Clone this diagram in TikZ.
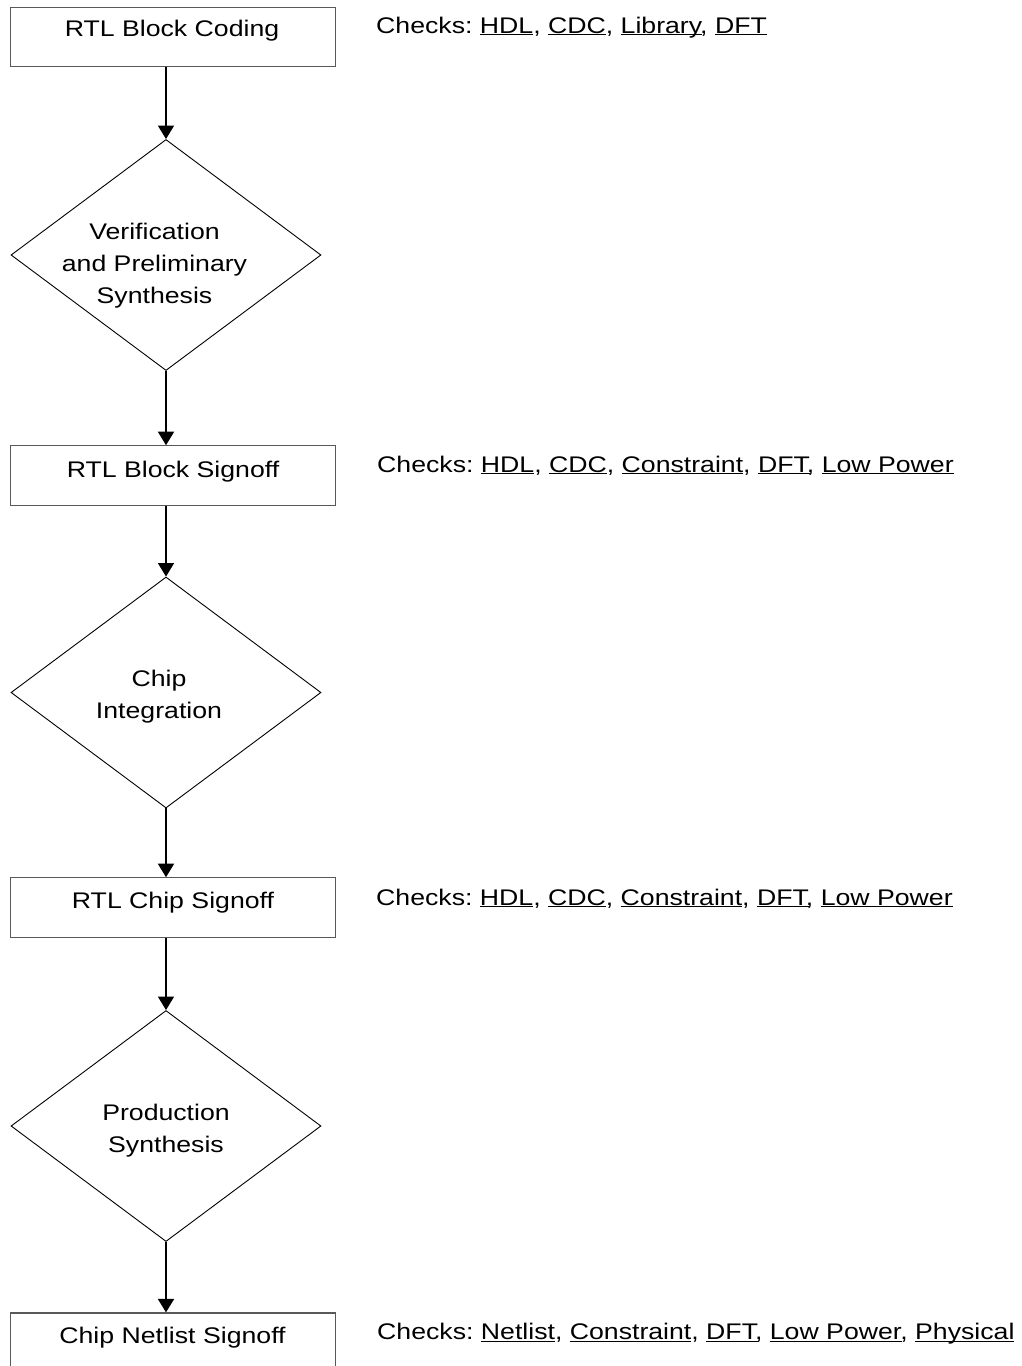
\documentclass[tikz,border=0pt]{standalone}
\usepackage{fontspec}
\usepackage{graphicx}
\setmainfont{Liberation Sans}
\usetikzlibrary{shapes.geometric,arrows.meta}
\frenchspacing
\newcommand\sx[1]{\scalebox{1.18}[1]{#1}}
\newcommand\ulx[1]{\setbox0\hbox{#1}\rlap{\rule[-2.4pt]{\wd0}{1.3pt}}#1}
\tikzset{
  x=1pt, y=-1pt,
  every node/.style={font=\fontsize{22.6}{32}\selectfont\frenchspacing, inner sep=0pt},
  stepbox/.style={draw=black!65, line width=1.2pt, rectangle, minimum width=325pt, minimum height=59.4pt},
  decision/.style={draw=black, line width=0.9pt, diamond, minimum width=310pt, minimum height=231pt},
  lbl/.style={anchor=base},
  chk/.style={anchor=base west},
  flow/.style={draw=black, line width=1.7pt, -{Triangle[width=16pt,length=13.5pt]}}
}
\begin{document}
\begin{tikzpicture}
\useasboundingbox (0,0) rectangle (1021,1366);
\clip (0,0) rectangle (1021,1366);
\fill[white] (0,0) rectangle (1021,1366);

% boxes
\node[stepbox] (b1) at (173,37) {};
\node[stepbox] (b2) at (173,475.5) {};
\node[stepbox] (b3) at (173,907.5) {};
\node[stepbox] (b4) at (173,1342.7) {};

\node[lbl] (t1) at (172,36) {\sx{RTL Block Coding}};
\node[lbl] (t2) at (173,477) {\sx{RTL Block Signoff}};
\node[lbl] (t3) at (173,908) {\sx{RTL Chip Signoff}};
\node[lbl] (t4) at (172.5,1343) {\sx{Chip Netlist Signoff}};

% diamonds
\node[decision] (d1) at (166,255) {};
\node[decision] (d2) at (166,692.5) {};
\node[decision] (d3) at (166,1126) {};

\node[lbl, align=center] (dt1) at (154.5,303.4) {\sx{Verification}\\\sx{and Preliminary}\\\sx{Synthesis}};
\node[lbl, align=center] (dt2) at (159,718.5) {\sx{Chip}\\\sx{Integration}};
\node[lbl, align=center] (dt3) at (166,1152.5) {\sx{Production}\\\sx{Synthesis}};

% connectors
\draw[flow] (b1.south -| d1.north) -- (d1.north);
\draw[flow] (d1.south) -- (d1.south |- b2.north);
\draw[flow] (b2.south -| d2.north) -- (d2.north);
\draw[flow] (d2.south) -- (d2.south |- b3.north);
\draw[flow] (b3.south -| d3.north) -- (d3.north);
\draw[flow] (d3.south) -- (d3.south |- b4.north);

% checks
\node[chk] (c1) at (376,33) {\sx{Checks: \ulx{HDL}, \ulx{CDC}, \ulx{Library}, \ulx{DFT}}};
\node[chk] (c2) at (377,472) {\sx{Checks: \ulx{HDL}, \ulx{CDC}, \ulx{Constraint}, \ulx{DFT}, \ulx{Low Power}}};
\node[chk] (c3) at (376,905) {\sx{Checks: \ulx{HDL}, \ulx{CDC}, \ulx{Constraint}, \ulx{DFT}, \ulx{Low Power}}};
\node[chk] (c4) at (377,1339.5) {\sx{Checks: \ulx{Netlist}, \ulx{Constraint}, \ulx{DFT}, \ulx{Low Power}, \ulx{Physical}}};
\end{tikzpicture}
\end{document}
